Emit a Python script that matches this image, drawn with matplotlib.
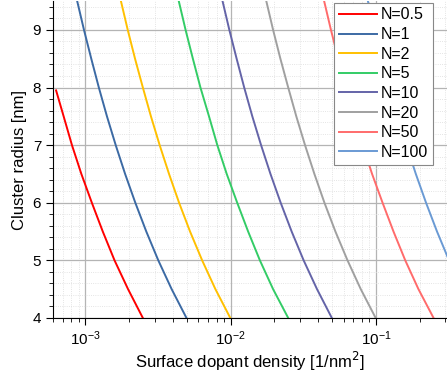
import numpy as np
import matplotlib.pyplot as plt
from matplotlib.ticker import MultipleLocator, LogLocator

plt.rcParams['font.family'] = ['Liberation Sans', 'DejaVu Sans']

# cluster radius [nm]
radius = [4.0, 4.5, 5.0, 5.5, 6.0, 6.5, 7.0, 7.5, 8.0, 8.5, 9.0, 9.5]
radius_half = [4.0, 4.5, 5.0, 5.5, 6.0, 6.5, 7.0, 7.5, 7.95]

# surface dopant density [1/nm^2]
dens_0p5 = [2.49e-3, 1.97e-3, 1.59e-3, 1.32e-3, 1.11e-3, 9.4e-4, 8.1e-4, 7.1e-4, 6.3e-4]
dens_1 = [4.97e-3, 3.93e-3, 3.18e-3, 2.63e-3, 2.21e-3, 1.88e-3, 1.62e-3, 1.41e-3, 1.24e-3, 1.10e-3, 9.8e-4, 8.8e-4]
dens_2 = [9.95e-3, 7.86e-3, 6.37e-3, 5.26e-3, 4.42e-3, 3.77e-3, 3.25e-3, 2.83e-3, 2.49e-3, 2.20e-3, 1.96e-3, 1.76e-3]
dens_5 = [2.49e-2, 1.96e-2, 1.59e-2, 1.32e-2, 1.11e-2, 9.4e-3, 8.1e-3, 7.1e-3, 6.2e-3, 5.5e-3, 4.9e-3, 4.4e-3]
dens_10 = [4.97e-2, 3.93e-2, 3.18e-2, 2.63e-2, 2.21e-2, 1.88e-2, 1.62e-2, 1.41e-2, 1.24e-2, 1.10e-2, 9.8e-3, 8.8e-3]
dens_20 = [9.95e-2, 7.86e-2, 6.37e-2, 5.26e-2, 4.42e-2, 3.77e-2, 3.25e-2, 2.83e-2, 2.49e-2, 2.20e-2, 1.96e-2, 1.76e-2]
dens_50 = [0.249, 0.196, 0.159, 0.132, 0.111, 0.094, 0.081, 0.071, 0.062, 0.055, 0.049, 0.044]
dens_100 = [0.497, 0.393, 0.318, 0.263, 0.221, 0.188, 0.162, 0.141, 0.124, 0.110, 0.098, 0.088]

labels = ['N=0.5', 'N=1', 'N=2', 'N=5', 'N=10', 'N=20', 'N=50', 'N=100']
colors = ['#ff0000', '#3c6aa4', '#ffc000', '#33cc66', '#6464a8', '#a0a0a0', '#ff6b6b', '#6a9ad4']

series = [(radius_half, dens_0p5), (radius, dens_1), (radius, dens_2), (radius, dens_5),
          (radius, dens_10), (radius, dens_20), (radius, dens_50), (radius, dens_100)]

fig = plt.figure(figsize=(4.47, 3.72), dpi=100)
ax = fig.add_axes([0.1186, 0.1452, 0.8814, 0.8518])

for (r, d), lab, c in zip(series, labels, colors):
    ax.plot(d, r, color=c, lw=1.4, label=lab)

ax.set_xscale('log')
ax.set_xlim(6.0e-4, 0.308)
ax.set_ylim(4, 9.5)
ax.yaxis.set_major_locator(MultipleLocator(1))
ax.yaxis.set_minor_locator(MultipleLocator(0.2))
ax.xaxis.set_minor_locator(LogLocator(base=10, subs=np.arange(2, 10), numticks=20))

ax.grid(True, which='major', color='#b4b4b4', lw=0.9, ls='-')
ax.grid(True, which='minor', color='#dcdcdc', lw=0.6, ls=':')
ax.set_axisbelow(True)

ax.spines['top'].set_visible(False)
ax.spines['right'].set_visible(False)
ax.tick_params(which='major', direction='out', length=5, labelsize=11)
ax.tick_params(which='minor', direction='out', length=3)

ax.set_xlabel('Surface dopant density [1/nm$^2$]', fontsize=12, labelpad=1)
ax.set_ylabel('Cluster radius [nm]', fontsize=12)

leg = ax.legend(loc='upper right', bbox_to_anchor=(0.965, 0.995), borderaxespad=0,
                fontsize=11.5, handlelength=2.4, handletextpad=0.25, labelspacing=0.29,
                borderpad=0.3, fancybox=False, framealpha=1)
leg.get_frame().set_edgecolor('#888888')
leg.get_frame().set_linewidth(0.8)

fig.savefig('out.png', dpi=100)
